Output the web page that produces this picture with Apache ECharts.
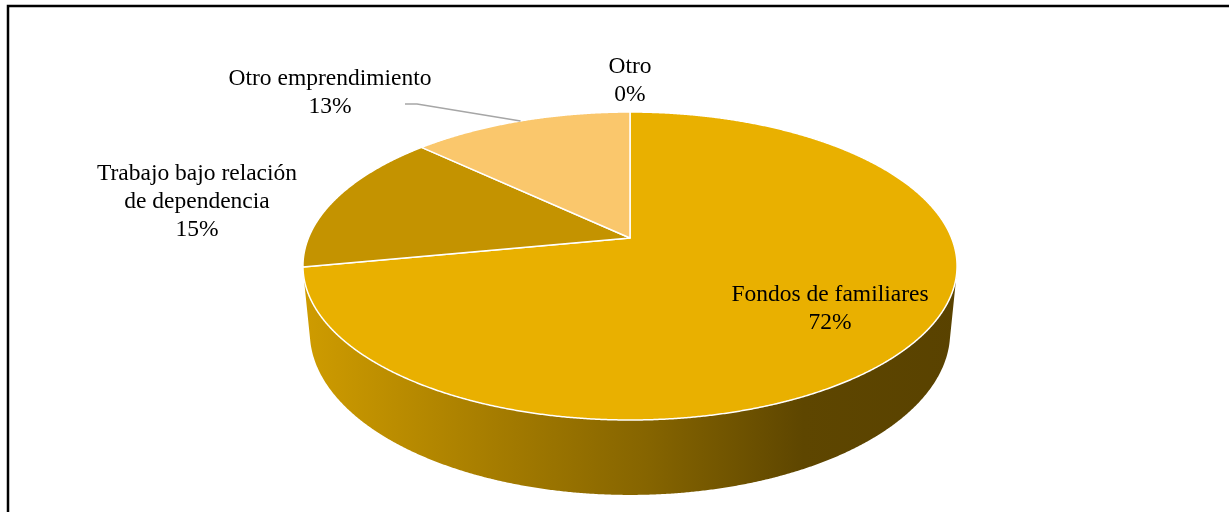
<!DOCTYPE html>
<html>
<head>
<meta charset="utf-8">
<script src="https://cdn.jsdelivr.net/npm/echarts@6/dist/echarts.min.js"></script>
<style>
  html, body { margin: 0; padding: 0; background: #fff; }
  #chart { width: 1229px; height: 512px; }
</style>
</head>
<body>
<div id="chart"></div>
<script>
// Origen de los fondos (porcentaje de respuestas)
const categories = ['Fondos de familiares', 'Trabajo bajo relación\nde dependencia', 'Otro emprendimiento', 'Otro'];
const shares = [72, 15, 13, 0];
const sliceColors = ['#E9B000', '#C49300', '#FAC76C', '#EDB400'];

// Text block centres for the slice labels (px) and the leader line start
const labelAt = [[830, 308.5], [197, 201.5], [330, 92.5], [630, 80.5]];
const leaderFrom = [null, null, [405, 104], null];

// Simple perspective camera for the tilted pie
const VIEW = { cx: 630, cy: 238, fx: 1579, fy: 1621, dist: 4.91, sin: 0.451, cos: 0.893, depth: 0.226 };
function project(u, v, z) {
  const yc = v * VIEW.sin + z * VIEW.cos;
  const d = VIEW.dist + v * VIEW.cos - z * VIEW.sin;
  return [VIEW.cx + VIEW.fx * u / d, VIEW.cy - VIEW.fy * yc / d];
}
// rim points with v below this face the camera
const vCut = -1 / (VIEW.dist * VIEW.cos);

const total = shares.reduce((a, b) => a + b, 0);
let acc = 0;
const spans = shares.map(v => { const s = [acc, acc + v]; acc += v; return s; });

const sideLeft = project(-1, -0.2, 0)[0];
const sideRight = project(1, -0.2, 0)[0];
const sideFill = new echarts.graphic.LinearGradient(sideLeft, 0, sideRight, 0, [
  { offset: 0, color: '#D09D00' },
  { offset: 0.3, color: '#A57C00' },
  { offset: 0.53, color: '#856400' },
  { offset: 0.76, color: '#5E4600' },
  { offset: 1, color: '#594200' }
], true);

function renderItem(params, api) {
  const i = params.dataIndex;
  const t0 = api.value(0), t1 = api.value(1);
  const o = api.coord([0, 0]);
  const topPt = api.coord([1, 0]);
  const R = o[1] - topPt[1];
  const rim = t => {
    const p = api.coord([1, t]);
    return [(p[0] - o[0]) / R, (o[1] - p[1]) / R];
  };
  const children = [];
  if (t1 > t0) {
    const n = Math.max(2, Math.ceil((t1 - t0) / total * 1440));
    const pts = [];
    for (let k = 0; k <= n; k++) pts.push(rim(t0 + (t1 - t0) * k / n));
    // outer wall (front part only)
    const front = pts.filter(p => p[1] < vCut);
    if (front.length > 1) {
      const upper = front.map(p => project(p[0], p[1], 0));
      const lower = front.map(p => project(p[0], p[1], -VIEW.depth)).reverse();
      children.push({
        type: 'polygon', shape: { points: upper.concat(lower) },
        style: { fill: sideFill }, z2: 1
      });
    }
    // top face
    const face = [project(0, 0, 0)].concat(pts.map(p => project(p[0], p[1], 0)));
    children.push({
      type: 'polygon', shape: { points: face },
      style: { fill: sliceColors[i], stroke: '#FFFFFF', lineWidth: 1.5, lineJoin: 'round' },
      z2: 10
    });
  }
  if (leaderFrom[i]) {
    const m = rim((t0 + t1) / 2);
    const end = project(m[0], m[1], 0);
    const s = leaderFrom[i];
    children.push({
      type: 'polyline',
      shape: { points: [s, [s[0] + 12, s[1]], end] },
      style: { stroke: '#A6A6A6', lineWidth: 1.5, fill: null },
      z2: 15
    });
  }
  children.push({
    type: 'text',
    x: labelAt[i][0], y: labelAt[i][1],
    style: {
      text: categories[i] + '\n' + shares[i] + '%',
      fontFamily: '"Liberation Serif", "Times New Roman", serif',
      fontSize: 23.5, lineHeight: 28,
      align: 'center', verticalAlign: 'middle', fill: '#000000'
    },
    z2: 20
  });
  return { type: 'group', children };
}

const chart = echarts.init(document.getElementById('chart'), null, { renderer: 'canvas' });
chart.setOption({
  animation: false,
  backgroundColor: '#FFFFFF',
  polar: { center: ['50%', '50%'], radius: 100 },
  angleAxis: {
    type: 'value', min: 0, max: total, startAngle: 90, clockwise: true,
    show: false, axisLine: { show: false }, axisTick: { show: false },
    axisLabel: { show: false }, splitLine: { show: false }
  },
  radiusAxis: {
    type: 'value', min: 0, max: 1, show: false,
    axisLine: { show: false }, axisTick: { show: false },
    axisLabel: { show: false }, splitLine: { show: false }
  },
  graphic: [{
    type: 'rect', silent: true, z: 100,
    shape: { x: 8, y: 6, width: 1240, height: 520 },
    style: { fill: null, stroke: '#000000', lineWidth: 2.5 }
  }],
  series: [{
    type: 'custom',
    coordinateSystem: 'polar',
    clip: false,
    renderItem: renderItem,
    data: spans.map((s, i) => ({ name: categories[i], value: s }))
  }]
});
</script>
</body>
</html>
